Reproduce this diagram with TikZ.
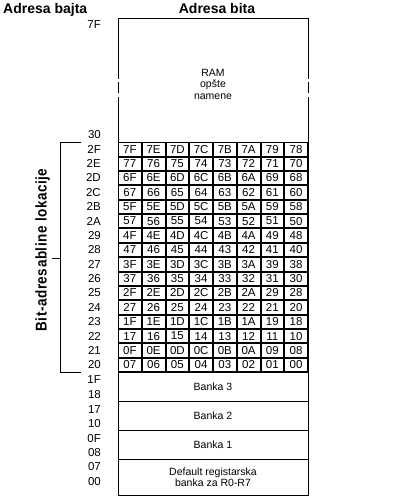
\documentclass[tikz,border=0pt]{standalone}
\usepackage{fontspec}
\setmainfont{Liberation Sans}
\usetikzlibrary{calc}
\begin{document}
\begin{tikzpicture}[x=1pt,y=-1pt,
  frame/.style={draw=black, line width=1pt},
  cellbox/.style={draw=black, line width=0.6pt, minimum width=22.75pt, minimum height=13.4pt, inner sep=0pt, font=\fontsize{11.5}{13}\selectfont},
  addr/.style={anchor=east, inner sep=0pt, font=\fontsize{11.5}{13}\selectfont},
  title/.style={inner sep=0pt, font=\bfseries\fontsize{14}{16}\selectfont},
  boxtxt/.style={font=\fontsize{10.5}{11.5}\selectfont, align=center},
  bankbox/.style={draw=black, line width=1pt, minimum width=190pt, inner sep=0pt, boxtxt},
  brack/.style={draw=black, line width=1pt}]
\useasboundingbox (0,0) rectangle (416,503);
% titles
\node[title, anchor=base west] (tbajt) at (3,13.5) {Adresa bajta};
\node[title, anchor=base] (tbit) at (217,13.5) {Adresa bita};
% RAM region
\node[minimum width=190pt, minimum height=123pt, inner sep=0pt] (ram) at (213,80.5) {};
\node[boxtxt] (ramtxt) at (213,84) {RAM\\opšte\\namene};
\draw[frame] (118,79) -- (118,19) -- (308,19) -- (308,79);
\draw[frame] (118,81.7) -- (118,93.3) (308,81.7) -- (308,93.3);
\draw[frame] (118,96.7) -- (118,142) -- (308,142) -- (308,96.7);
% bit-addressable grid
\foreach \h [count=\i from 0] in {7,6,5,4,3,2,1,0} {
  \pgfmathtruncatemacro\ra{2*\i}
  \pgfmathtruncatemacro\rb{2*\i+1}
  \foreach \l [count=\j from 0] in {F,E,D,C,B,A,9,8}
    \node[cellbox] (c-\ra-\j) at ({118+23.75*(\j+0.5)},{142+14.375*(\ra+0.5)}) {\h\l};
  \foreach \l [count=\j from 0] in {7,6,5,4,3,2,1,0}
    \node[cellbox] (c-\rb-\j) at ({118+23.75*(\j+0.5)},{142+14.375*(\rb+0.5)}) {\h\l};
}
\node[frame, minimum width=190pt, minimum height=230pt, inner sep=0pt] (grid) at (213,257) {};
% register banks
\node[bankbox, minimum height=29pt] (bank3) at (213,386.5) {Banka 3};
\node[bankbox, minimum height=29pt] (bank2) at (213,415.5) {Banka 2};
\node[bankbox, minimum height=29pt] (bank1) at (213,444.5) {Banka 1};
\node[bankbox, minimum height=36pt] (bank0) at (213,477) {Default registarska\\banka za R0-R7};
% byte addresses
\node[addr] (b7F) at (101,25) {7F};
\node[addr] (b30) at (101,135) {30};
\foreach \b [count=\k from 0] in {2F,2E,2D,2C,2B,2A,29,28,27,26,25,24,23,22,21,20}
  \node[addr] (b\b) at (101,{142+14.375*(\k+0.5)}) {\b};
\node[addr] (b1F) at (101,380) {1F};
\node[addr] (b18) at (101,395) {18};
\node[addr] (b17) at (101,409.3) {17};
\node[addr] (b10) at (101,423.7) {10};
\node[addr] (b0F) at (101,438.3) {0F};
\node[addr] (b08) at (101,452.3) {08};
\node[addr] (b07) at (101,466.7) {07};
\node[addr] (b00) at (101,481.3) {00};
% bracket
\coordinate (brt) at (81,142.7);
\coordinate (brb) at (81,372.7);
\coordinate (brm) at (52,258);
\draw[brack] (brt) -- (60,142.7) -- (60,372.7) -- (brb);
\draw[brack] (brm) -- (60,258);
\node[rotate=90, anchor=base, inner sep=0pt, font=\bfseries\fontsize{13.5}{15}\selectfont\addfontfeature{LetterSpace=4}, yscale=1.15] (lbl) at (46.5,250) {Bit-adresabline lokacije};
\end{tikzpicture}
\end{document}
